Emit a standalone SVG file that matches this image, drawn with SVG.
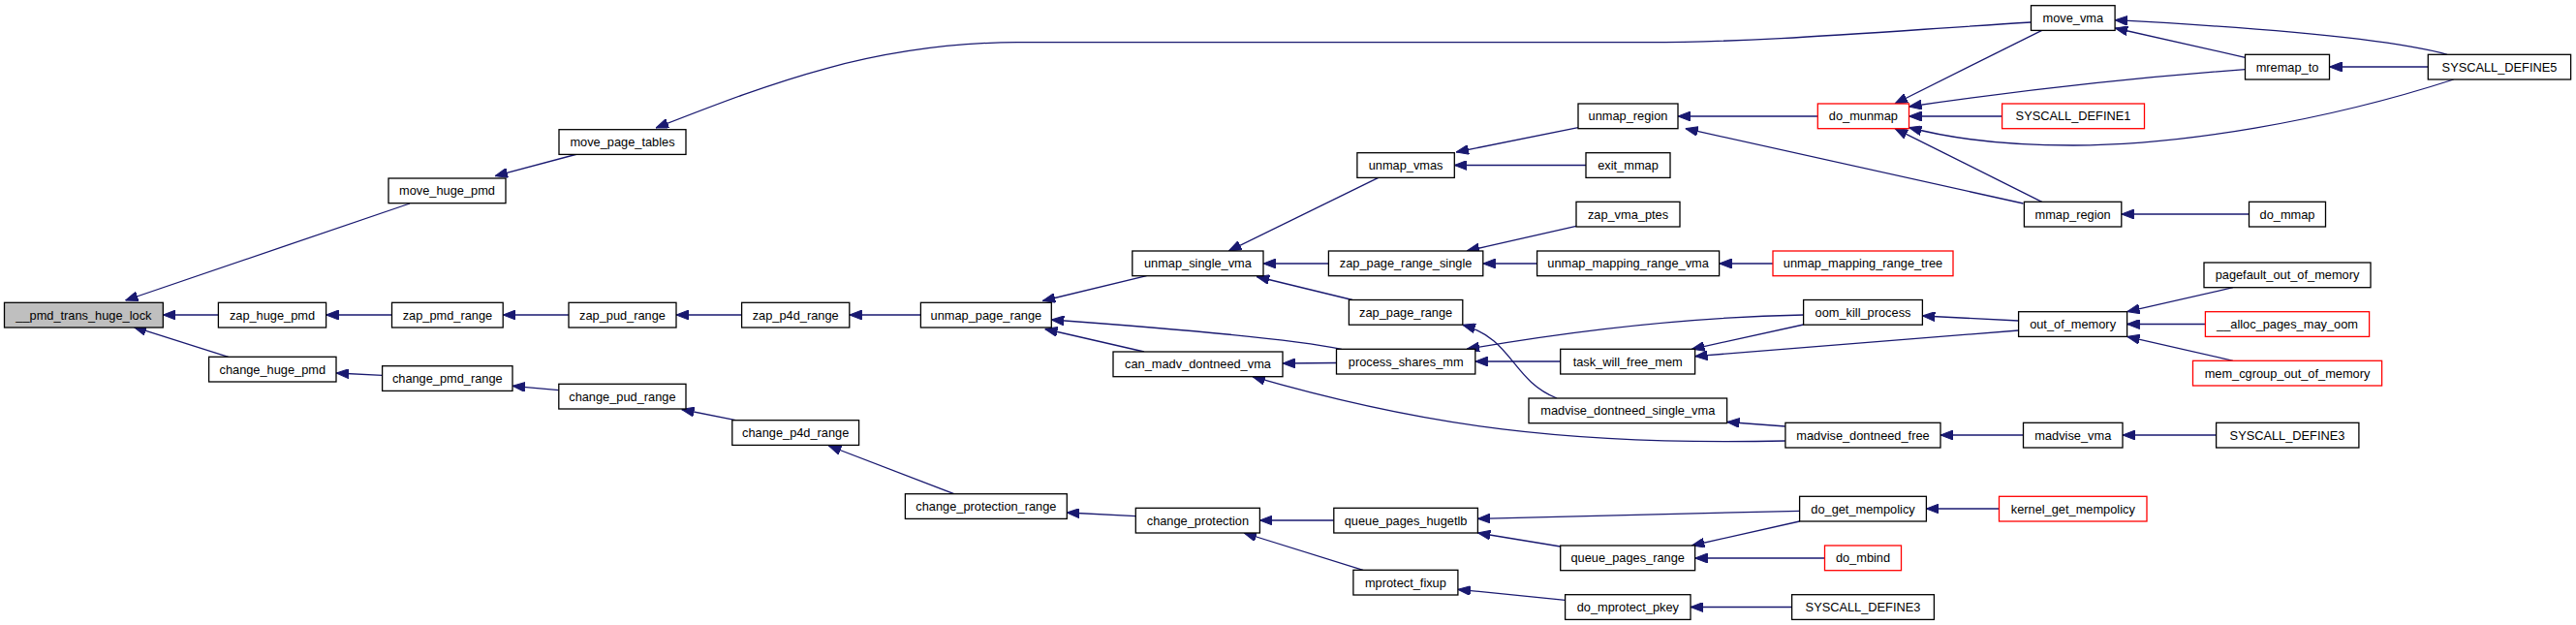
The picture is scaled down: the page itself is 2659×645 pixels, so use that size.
<svg xmlns="http://www.w3.org/2000/svg" width="2659" height="645" viewBox="0 0 2659 645">
<style>
.n rect{fill:#fff;stroke:#000;stroke-width:1.3}
.n.r rect{stroke:#ff0000}
.n.g rect{fill:#bfbfbf}
.n text{font-family:"Liberation Sans",Arial,Helvetica,sans-serif;font-size:12.8px;fill:#000;text-anchor:middle}
#edges path{fill:none;stroke:#191970;stroke-width:1.3;marker-end:url(#ah)}
</style>
<defs>
<marker id="ah" viewBox="0 0 13 10" refX="13" refY="5" markerWidth="13" markerHeight="10" markerUnits="userSpaceOnUse" orient="auto">
<path d="M0,0 L13,5 L0,10 z" fill="#191970" stroke="#191970" stroke-width="1"/>
</marker>
</defs>
<rect x="0" y="0" width="2659" height="645" fill="#fff"/>
<g id="edges">
<path d="M423,210 L129.5,310"/>
<path d="M225.4,325 L168.3,325"/>
<path d="M235.7,368.3 L138,337.3"/>
<path d="M596,159 L511,181.7"/>
<path d="M2096.5,23 C1950,32 1820,43.7 1700,43.7 L1050,43.7 C900,44 790,88 677,132"/>
<path d="M404.5,325 L336.6,325"/>
<path d="M587,325 L519.2,325"/>
<path d="M765.6,325 L698,325"/>
<path d="M950.4,325 L876.8,325"/>
<path d="M1183.5,284.7 L1076.3,310.5"/>
<path d="M1384.8,360.3 Q1320,347 1085.3,330"/>
<path d="M1181,363 L1078.6,339.5"/>
<path d="M394.6,387.3 L347,385"/>
<path d="M576.8,402.7 L529,398.3"/>
<path d="M759.4,433.7 L703.6,422.5"/>
<path d="M984.8,509.7 L855.4,460"/>
<path d="M1172.3,532.7 L1101.3,529"/>
<path d="M1422.8,183.3 L1268.3,259"/>
<path d="M1371.4,272 L1304,272"/>
<path d="M1396,309.5 L1297.3,285.5"/>
<path d="M1629,131.7 L1503,157"/>
<path d="M1637,170.5 L1501.3,170.5"/>
<path d="M1627,233.3 L1514,259"/>
<path d="M1586.6,272 L1530.8,272"/>
<path d="M1830,272 L1774.6,272"/>
<path d="M1876.3,120 L1732,120"/>
<path d="M2088.5,210 L1739.7,132.7"/>
<path d="M2107.7,31.3 L1956,107"/>
<path d="M2317.5,71.7 Q2150,84 1970.5,110"/>
<path d="M2066.6,120 L1970.5,120"/>
<path d="M2532.7,82 C2400,125 2250,150 2140,150 C2060,150 2010,142 1970.5,131.5"/>
<path d="M2107.7,208.3 L1956,132.7"/>
<path d="M2317.5,59.3 L2183.1,29"/>
<path d="M2526,56.3 Q2450,35 2183.1,20.7"/>
<path d="M2506.3,69 L2404.5,69"/>
<path d="M2321.5,221 L2189.8,221"/>
<path d="M1861.6,325 Q1700,328 1514,360.3"/>
<path d="M1610.7,373 L1522.8,373"/>
<path d="M1861.6,335 L1746.4,360.3"/>
<path d="M2083.6,341 L1749.6,367.7"/>
<path d="M2083.6,331 L1984.4,326"/>
<path d="M1607,411 C1560,392 1562,350 1509.8,335.3"/>
<path d="M1842.9,440 L1782.6,435.5"/>
<path d="M1842.9,455 C1620,460 1470,440 1292.9,388.7"/>
<path d="M1379.5,374.5 L1324,375"/>
<path d="M2088.5,449 L2003,449"/>
<path d="M2287.6,449 L2191,449"/>
<path d="M2305,296.7 L2195.6,321.7"/>
<path d="M2276.4,334.5 L2195.6,334.5"/>
<path d="M2305,372.3 L2195.6,347.3"/>
<path d="M1376.8,537 L1300.4,537"/>
<path d="M1407,588.3 L1284,550"/>
<path d="M1857.6,527.3 L1525.4,535.3"/>
<path d="M1610.7,564 L1525.4,550"/>
<path d="M1857.6,538 L1746.4,563"/>
<path d="M1883.5,576 L1749.6,576"/>
<path d="M2063.5,525 L1988.4,525"/>
<path d="M1615.6,619.3 L1504.9,608.3"/>
<path d="M1849.6,626.5 L1745,626.5"/>
</g>
<g id="n_pmd_trans_huge_lock" class="n g"><rect x="4.5" y="312.3" width="163.8" height="25.7"/><text x="86.4" y="329.6">__pmd_trans_huge_lock</text></g>
<g id="n_move_huge_pmd" class="n"><rect x="401" y="184" width="121" height="25.7"/><text x="461.5" y="201.3">move_huge_pmd</text></g>
<g id="n_move_page_tables" class="n"><rect x="577" y="133.7" width="131" height="25.7"/><text x="642.5" y="151">move_page_tables</text></g>
<g id="n_zap_huge_pmd" class="n"><rect x="225.4" y="312.3" width="111.2" height="25.7"/><text x="281" y="329.6">zap_huge_pmd</text></g>
<g id="n_zap_pmd_range" class="n"><rect x="404.5" y="312.3" width="114.7" height="25.7"/><text x="461.9" y="329.6">zap_pmd_range</text></g>
<g id="n_zap_pud_range" class="n"><rect x="587" y="312.3" width="111" height="25.7"/><text x="642.5" y="329.6">zap_pud_range</text></g>
<g id="n_change_huge_pmd" class="n"><rect x="215.6" y="368.3" width="131.4" height="25.7"/><text x="281.3" y="385.6">change_huge_pmd</text></g>
<g id="n_change_pmd_range" class="n"><rect x="394.6" y="377.7" width="134.4" height="25.7"/><text x="461.8" y="395">change_pmd_range</text></g>
<g id="n_change_pud_range" class="n"><rect x="576.8" y="396.3" width="131.2" height="25.7"/><text x="642.4" y="413.6">change_pud_range</text></g>
<g id="n_zap_p4d_range" class="n"><rect x="765.6" y="312.3" width="111.2" height="25.7"/><text x="821.2" y="329.6">zap_p4d_range</text></g>
<g id="n_unmap_page_range" class="n"><rect x="950.4" y="312.3" width="134.9" height="25.7"/><text x="1017.9" y="329.6">unmap_page_range</text></g>
<g id="n_unmap_single_vma" class="n"><rect x="1168.8" y="259" width="135.2" height="25.7"/><text x="1236.4" y="276.3">unmap_single_vma</text></g>
<g id="n_can_madv_dontneed_vma" class="n"><rect x="1149" y="363" width="175" height="25.7"/><text x="1236.5" y="380.3">can_madv_dontneed_vma</text></g>
<g id="n_change_p4d_range" class="n"><rect x="755.8" y="433.7" width="130.8" height="25.7"/><text x="821.2" y="451">change_p4d_range</text></g>
<g id="n_change_protection_range" class="n"><rect x="934.4" y="509.7" width="166.9" height="25.7"/><text x="1017.9" y="527">change_protection_range</text></g>
<g id="n_change_protection" class="n"><rect x="1172.3" y="524.3" width="128.1" height="25.7"/><text x="1236.4" y="541.6">change_protection</text></g>
<g id="n_unmap_region" class="n"><rect x="1629" y="107" width="103" height="25.7"/><text x="1680.5" y="124.3">unmap_region</text></g>
<g id="n_do_munmap" class="n r"><rect x="1876.3" y="107" width="94.2" height="25.7"/><text x="1923.4" y="124.3">do_munmap</text></g>
<g id="n_unmap_vmas" class="n"><rect x="1400.9" y="157.7" width="100.4" height="25.7"/><text x="1451.1" y="175">unmap_vmas</text></g>
<g id="n_exit_mmap" class="n"><rect x="1637" y="157.7" width="87" height="25.7"/><text x="1680.5" y="175">exit_mmap</text></g>
<g id="n_zap_vma_ptes" class="n"><rect x="1627" y="208.3" width="107" height="25.7"/><text x="1680.5" y="225.6">zap_vma_ptes</text></g>
<g id="n_zap_page_range_single" class="n"><rect x="1371.4" y="259" width="159.4" height="25.7"/><text x="1451.1" y="276.3">zap_page_range_single</text></g>
<g id="n_unmap_mapping_range_vma" class="n"><rect x="1586.6" y="259" width="188" height="25.7"/><text x="1680.6" y="276.3">unmap_mapping_range_vma</text></g>
<g id="n_unmap_mapping_range_tree" class="n r"><rect x="1830" y="259" width="186" height="25.7"/><text x="1923" y="276.3">unmap_mapping_range_tree</text></g>
<g id="n_zap_page_range" class="n"><rect x="1392.4" y="309.5" width="117.4" height="25.7"/><text x="1451.1" y="326.8">zap_page_range</text></g>
<g id="n_oom_kill_process" class="n"><rect x="1861.6" y="309.5" width="122.8" height="25.7"/><text x="1923" y="326.8">oom_kill_process</text></g>
<g id="n_process_shares_mm" class="n"><rect x="1379.5" y="360.3" width="143.3" height="25.7"/><text x="1451.2" y="377.6">process_shares_mm</text></g>
<g id="n_task_will_free_mem" class="n"><rect x="1610.7" y="360.3" width="138.9" height="25.7"/><text x="1680.2" y="377.6">task_will_free_mem</text></g>
<g id="n_madvise_dontneed_single_vma" class="n"><rect x="1578" y="411" width="204.6" height="25.7"/><text x="1680.3" y="428.3">madvise_dontneed_single_vma</text></g>
<g id="n_madvise_dontneed_free" class="n"><rect x="1842.9" y="436.3" width="160.1" height="25.7"/><text x="1923" y="453.6">madvise_dontneed_free</text></g>
<g id="n_queue_pages_hugetlb" class="n"><rect x="1376.8" y="524.3" width="148.6" height="25.7"/><text x="1451.1" y="541.6">queue_pages_hugetlb</text></g>
<g id="n_queue_pages_range" class="n"><rect x="1610.7" y="563" width="138.9" height="25.7"/><text x="1680.2" y="580.3">queue_pages_range</text></g>
<g id="n_mprotect_fixup" class="n"><rect x="1396.9" y="588.3" width="108" height="25.7"/><text x="1450.9" y="605.6">mprotect_fixup</text></g>
<g id="n_do_mprotect_pkey" class="n"><rect x="1615.6" y="613.7" width="129.4" height="25.7"/><text x="1680.3" y="631">do_mprotect_pkey</text></g>
<g id="n_do_get_mempolicy" class="n"><rect x="1857.6" y="512.3" width="130.8" height="25.7"/><text x="1923" y="529.6">do_get_mempolicy</text></g>
<g id="n_do_mbind" class="n r"><rect x="1883.5" y="563" width="79" height="25.7"/><text x="1923" y="580.3">do_mbind</text></g>
<g id="n_SYSCALL_DEFINE3_mprotect" class="n"><rect x="1849.6" y="613.7" width="146.8" height="25.7"/><text x="1923" y="631">SYSCALL_DEFINE3</text></g>
<g id="n_move_vma" class="n"><rect x="2096.5" y="5.7" width="86.6" height="25.7"/><text x="2139.8" y="23">move_vma</text></g>
<g id="n_mremap_to" class="n"><rect x="2317.5" y="56.3" width="87" height="25.7"/><text x="2361" y="73.6">mremap_to</text></g>
<g id="n_SYSCALL_DEFINE5" class="n"><rect x="2506.3" y="56.3" width="147.3" height="25.7"/><text x="2580" y="73.6">SYSCALL_DEFINE5</text></g>
<g id="n_SYSCALL_DEFINE1" class="n r"><rect x="2066.6" y="107" width="146.9" height="25.7"/><text x="2140" y="124.3">SYSCALL_DEFINE1</text></g>
<g id="n_mmap_region" class="n"><rect x="2089.4" y="208.3" width="100.4" height="25.7"/><text x="2139.6" y="225.6">mmap_region</text></g>
<g id="n_do_mmap" class="n"><rect x="2321.5" y="208.3" width="79" height="25.7"/><text x="2361" y="225.6">do_mmap</text></g>
<g id="n_pagefault_out_of_memory" class="n"><rect x="2275" y="271" width="172" height="25.7"/><text x="2361" y="288.3">pagefault_out_of_memory</text></g>
<g id="n_out_of_memory" class="n"><rect x="2083.6" y="321.7" width="112" height="25.7"/><text x="2139.6" y="339">out_of_memory</text></g>
<g id="n_alloc_pages_may_oom" class="n r"><rect x="2276.4" y="321.7" width="169.2" height="25.7"/><text x="2361" y="339">__alloc_pages_may_oom</text></g>
<g id="n_mem_cgroup_out_of_memory" class="n r"><rect x="2263.5" y="372.3" width="195.1" height="25.7"/><text x="2361" y="389.6">mem_cgroup_out_of_memory</text></g>
<g id="n_madvise_vma" class="n"><rect x="2088.5" y="436.3" width="102.5" height="25.7"/><text x="2139.8" y="453.6">madvise_vma</text></g>
<g id="n_SYSCALL_DEFINE3_madvise" class="n"><rect x="2287.6" y="436.3" width="147.3" height="25.7"/><text x="2361" y="453.6">SYSCALL_DEFINE3</text></g>
<g id="n_kernel_get_mempolicy" class="n r"><rect x="2063.5" y="512.3" width="152.5" height="25.7"/><text x="2139.8" y="529.6">kernel_get_mempolicy</text></g>
</svg>
